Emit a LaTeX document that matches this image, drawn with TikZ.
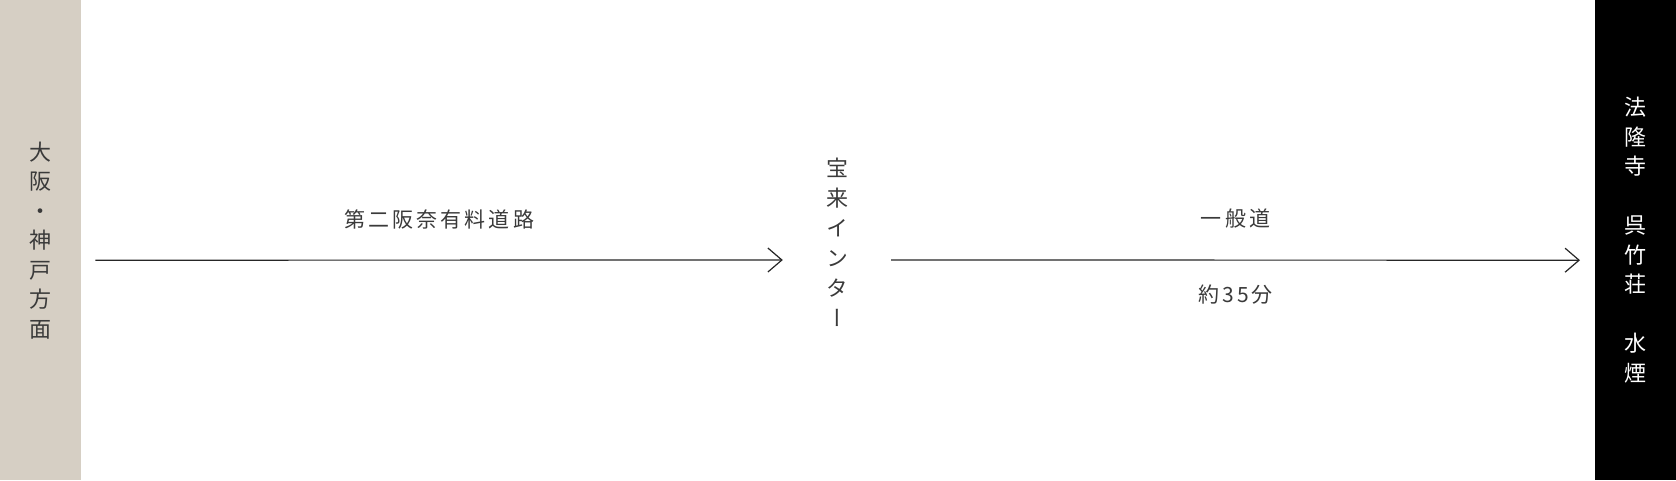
\documentclass[tikz,border=0pt]{standalone}
\usepackage{fontspec}
\setmainfont{Noto Sans CJK JP}
\newfontfamily\jptate{Noto Sans CJK JP}[RawFeature=+vert]
\newfontfamily\jpwide{Noto Sans CJK JP}[LetterSpace=15]
\usetikzlibrary{arrows.meta}
\definecolor{sand}{RGB}{214,207,196}
\definecolor{ink}{RGB}{58,58,58}

\begin{document}
\begin{tikzpicture}[x=1pt, y=-1pt,
    bar/.style={anchor=north west, minimum width=81pt, minimum height=480pt,
      inner sep=0pt, align=center, font=\jptate\fontsize{22pt}{29.5pt}\selectfont},
    tate/.style={align=center, inner sep=0pt, text=ink,
      font=\jptate\fontsize{22pt}{30pt}\selectfont},
    route/.style={draw=black!85, line width=1.2pt,
      -{Straight Barb[length=14pt, width=24pt]}},
    roadname/.style={text=ink, font=\jpwide\fontsize{21pt}{24pt}\selectfont}]
  \useasboundingbox (0, 0) rectangle (1676, 480);

  % Nodes
  \node [bar, fill=sand, text=ink] (osaka) at (0, 0) {大\\阪\\・\\神\\戸\\方\\面};
  \node [tate, minimum width=108pt] (hourai) at (837, 242) {宝\\来\\イ\\ン\\タ\\ー};
  \node [bar, fill=black, text=white] (horyuji) at (1595, 0)
    {法\\隆\\寺\\　\\呉\\竹\\荘\\　\\水\\煙};

  % Connections
  \draw [route] ([shift={(14, 20)}]osaka.east) -- ([yshift=-18]hourai.west)
    node [roadname, midway, yshift=41] {第二阪奈有料道路};
  \draw [route] ([yshift=-18]hourai.east) -- ([shift={(-15, 20)}]horyuji.west)
    node [roadname, midway, yshift=42] {一般道}
    node [roadname, midway, yshift=-34] {約35分};
\end{tikzpicture}
\end{document}
